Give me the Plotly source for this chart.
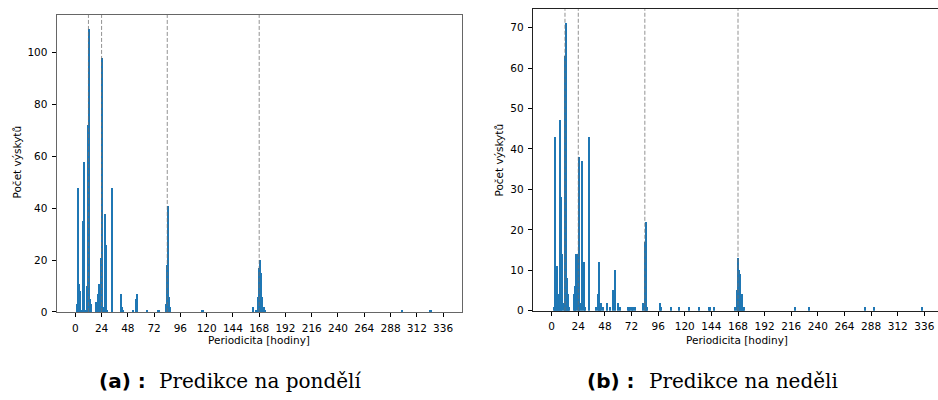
import plotly.graph_objects as go

# ---- data: (a) Monday prediction ----
hours_mon = [1, 2, 3, 4, 5, 6, 7, 9, 10, 11, 12, 13, 14, 18, 20, 21, 22, 23, 24, 25, 26, 27, 28,
             33, 41, 42, 43, 52, 55, 56, 65, 75, 76, 82, 83, 84, 85, 86, 115, 116,
             162, 164, 166, 167, 168, 169, 170, 172, 173, 298, 323, 324]
counts_mon = [3, 48, 11, 8, 1, 35, 58, 1, 10, 72, 109, 5, 3, 4, 7, 11, 11, 21, 98, 2, 38, 26, 1,
              48, 7, 2, 1, 1, 5, 7, 1, 1, 1, 3, 18, 41, 6, 2, 1, 1,
              2, 1, 6, 17, 20, 15, 6, 2, 1, 1, 1, 1]

# ---- data: (b) Sunday prediction ----
hours_sun = [1, 2, 3, 4, 5, 6, 7, 8, 9, 10, 11, 12, 13, 14, 15, 19, 20, 21, 23, 24, 25, 27, 28, 29,
             33, 39, 41, 42, 43, 44, 46, 49, 52, 55, 56, 59, 61, 68, 69, 70, 72, 73, 74,
             82, 83, 84, 85, 97, 98, 107, 114, 123, 132, 141, 142, 146,
             165, 166, 167, 168, 169, 170, 171, 172, 173, 219, 231, 282, 290, 333]
counts_sun = [1, 43, 11, 11, 3, 4, 47, 28, 14, 2, 63, 71, 8, 4, 1, 4, 6, 14, 14, 38, 2, 37, 12, 1,
              43, 1, 4, 12, 1, 2, 1, 2, 1, 5, 10, 2, 1, 1, 1, 1, 1, 1, 1,
              2, 17, 22, 1, 2, 1, 1, 1, 1, 1, 1, 1, 1,
              1, 5, 13, 10, 9, 1, 4, 1, 1, 1, 1, 1, 1, 1]

period_lines = [12, 24, 84, 168]
x_ticks = list(range(0, 337, 24))
y_title = "Počet výskytů"
x_title = "Periodicita [hodiny]"
cap_a_bold, cap_a_text = "(a) :", "Predikce na pondělí"
cap_b_bold, cap_b_text = "(b) :", "Predikce na neděli"

W, H = 938, 400
BAR = "#1f77b4"
FONT = dict(family="DejaVu Sans", size=10.5, color="black")

fig = go.Figure()
fig.add_trace(go.Bar(x=hours_mon, y=counts_mon, width=1, offset=0,
                     marker=dict(color=BAR, line=dict(width=0)), xaxis="x", yaxis="y"))
fig.add_trace(go.Bar(x=hours_sun, y=counts_sun, width=1, offset=0,
                     marker=dict(color=BAR, line=dict(width=0)), xaxis="x2", yaxis="y2"))

common_x = dict(tickmode="array", tickvals=x_ticks, ticks="outside", ticklen=4, tickwidth=1,
                tickcolor="black", showgrid=False, zeroline=False, showline=True,
                tickfont=FONT, ticklabelstandoff=2)
common_y = dict(ticks="outside", ticklen=4, tickwidth=1, tickcolor="black",
                showgrid=False, zeroline=False, showline=True, tickfont=FONT,
                ticklabelstandoff=2)

fig.update_layout(
    width=W, height=H, margin=dict(l=0, r=0, t=0, b=0),
    paper_bgcolor="white", plot_bgcolor="white", showlegend=False, bargap=0,
    font=FONT,
    xaxis=dict(domain=[56.7 / W, 462 / W], range=[-17.0, 353.3], anchor="y",
               linecolor="#666", linewidth=1.3, mirror=True, **common_x),
    yaxis=dict(domain=[1 - 316.7 / H, 1 - 15 / H], range=[0, 114.45], anchor="x",
               dtick=20, linecolor="#666", linewidth=1.3, mirror=True, **common_y),
    xaxis2=dict(domain=[532.7 / W, 1.0], range=[-17.1, 348.3], anchor="y2",
                linecolor="#222", linewidth=1, mirror=True, **common_x),
    yaxis2=dict(domain=[1 - 315.5 / H, 1 - 9.3 / H], range=[0, 74.55], anchor="x2",
                dtick=10, linecolor="#222", linewidth=1, mirror=False, **common_y),
)

shapes = []
for xr, yr in (("x", "y domain"), ("x2", "y2 domain")):
    for p in period_lines:
        shapes.append(dict(type="line", xref=xr, yref=yr, x0=p, x1=p, y0=0, y1=1,
                           line=dict(color="rgba(110,110,110,0.75)", width=1, dash="4px,2px"),
                           layer="above"))
fig.update_layout(shapes=shapes)

ann = []
# y titles
ann.append(dict(text=y_title, x=17 / W, y=1 - 165 / H, xref="paper", yref="paper",
                textangle=-90, showarrow=False, xanchor="center", yanchor="middle",
                font=dict(family="DejaVu Sans", size=10.5, color="black")))
ann.append(dict(text=y_title, x=499 / W, y=1 - 163 / H, xref="paper", yref="paper",
                textangle=-90, showarrow=False, xanchor="center", yanchor="middle",
                font=dict(family="DejaVu Sans", size=10.5, color="black")))
# x titles
ann.append(dict(text=x_title, x=259 / W, y=1 - 345 / H, xref="paper", yref="paper",
                showarrow=False, xanchor="center", yanchor="middle",
                font=dict(family="DejaVu Sans", size=10.5, color="black")))
ann.append(dict(text=x_title, x=737 / W, y=1 - 345 / H, xref="paper", yref="paper",
                showarrow=False, xanchor="center", yanchor="middle",
                font=dict(family="DejaVu Sans", size=10.5, color="black")))
# captions
for bold, txt, xb, xt in ((cap_a_bold, cap_a_text, 148, 157), (cap_b_bold, cap_b_text, 637, 647)):
    ann.append(dict(text="<b>" + bold + "</b>", x=xb / W, y=1 - 387 / H, xref="paper", yref="paper",
                    showarrow=False, xanchor="right", yanchor="middle",
                    font=dict(family="DejaVu Sans", size=20, color="black")))
    ann.append(dict(text=txt, x=xt / W, y=1 - 387 / H, xref="paper", yref="paper",
                    showarrow=False, xanchor="left", yanchor="middle",
                    font=dict(family="DejaVu Serif", size=20, color="black")))
fig.update_layout(annotations=ann)

fig.write_html("out.html")
